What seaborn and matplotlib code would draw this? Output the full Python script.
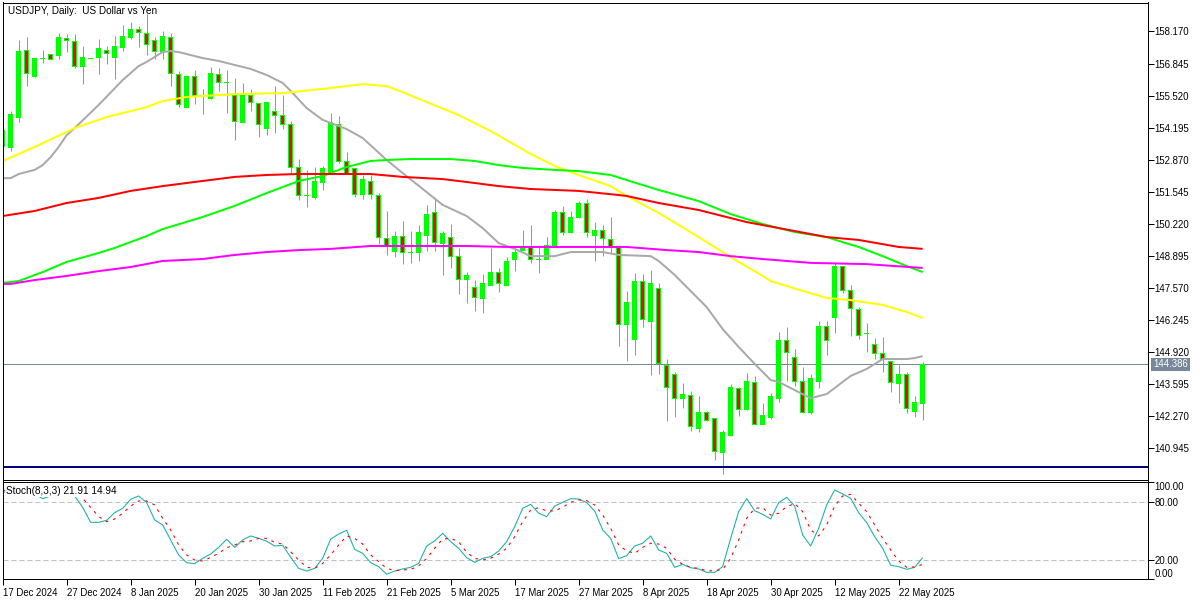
import matplotlib
matplotlib.use("Agg")
import matplotlib.pyplot as plt
import numpy as np
import pandas as pd
import seaborn as sns

BAR_GREEN = "#00FF00"
BAR_RED = "#FF0000"

# daily USDJPY bars
opens = [
    154.09, 153.35, 154.63, 157.40, 156.29, 157.07, 157.20, 157.16, 157.90, 157.74,
    156.74, 157.07, 157.11, 157.40, 157.11, 157.49, 157.94, 158.27, 158.07, 157.78,
    157.36, 157.94, 156.41, 155.04, 156.29, 155.50, 155.38, 156.41, 156.04, 155.50,
    154.42, 155.50, 155.17, 154.17, 154.84, 154.71, 154.34, 152.56, 151.40, 151.28,
    151.90, 152.35, 154.30, 152.77, 152.48, 151.44, 151.94, 151.40, 149.62, 149.08,
    149.70, 149.04, 149.00, 149.74, 150.66, 149.41, 149.66, 148.87, 147.92, 147.59,
    147.10, 147.67, 148.21, 147.67, 148.71, 149.12, 149.21, 148.75, 148.75, 149.33,
    150.66, 149.83, 150.45, 151.03, 149.74, 149.95, 149.54, 149.21, 146.02, 145.40,
    147.80, 146.18, 147.51, 144.36, 143.95, 142.96, 143.08, 141.75, 142.38, 142.13,
    140.76, 141.46, 143.41, 142.54, 143.62, 141.92, 142.21, 142.96, 145.36, 144.69,
    143.70, 142.38, 143.70, 145.94, 146.31, 148.46, 147.43, 146.68, 145.65, 145.23,
    144.82, 144.49, 143.58, 143.99, 142.42, 142.75,
]
highs = [
    154.09, 154.88, 157.82, 157.94, 157.07, 157.40, 157.20, 158.11, 158.07, 158.07,
    157.57, 157.07, 157.86, 157.57, 157.98, 158.44, 158.56, 158.40, 158.89, 157.94,
    158.19, 158.11, 156.53, 156.37, 156.58, 155.79, 156.70, 156.66, 156.58, 156.24,
    156.04, 155.79, 155.21, 155.25, 155.91, 155.54, 154.46, 152.89, 152.44, 152.56,
    152.60, 154.80, 154.67, 153.18, 152.52, 152.23, 152.23, 151.48, 150.74, 149.91,
    150.32, 149.91, 150.16, 150.99, 151.24, 149.91, 150.20, 149.21, 148.21, 147.88,
    148.13, 149.21, 148.38, 148.83, 149.25, 149.95, 150.16, 149.25, 149.66, 150.78,
    150.95, 150.74, 151.15, 151.24, 150.28, 150.16, 150.49, 149.33, 147.43, 148.17,
    148.13, 148.30, 147.76, 144.61, 144.07, 143.62, 143.29, 143.08, 142.46, 142.13,
    141.67, 143.58, 143.45, 144.03, 143.91, 142.79, 143.20, 145.73, 145.94, 145.03,
    144.28, 143.99, 146.18, 146.18, 148.63, 148.46, 147.67, 146.76, 146.10, 145.48,
    145.52, 144.49, 144.36, 144.07, 143.08, 144.49,
]
lows = [
    153.22, 153.22, 154.42, 155.91, 156.29, 156.87, 157.03, 157.03, 157.32, 156.66,
    155.99, 157.07, 156.41, 156.82, 156.20, 157.36, 157.86, 157.53, 157.20, 157.03,
    157.03, 155.91, 155.04, 155.00, 155.17, 154.75, 155.38, 155.71, 154.80, 153.68,
    154.42, 154.88, 153.80, 153.88, 153.97, 154.13, 152.31, 151.19, 150.90, 151.24,
    151.61, 152.31, 152.73, 152.27, 151.32, 151.24, 151.24, 149.37, 148.92, 148.83,
    148.54, 148.59, 148.67, 149.08, 149.08, 148.09, 148.38, 147.30, 146.93, 146.60,
    146.52, 147.67, 147.39, 147.67, 148.25, 149.12, 148.59, 148.17, 148.75, 149.33,
    149.74, 149.83, 150.45, 149.66, 148.67, 148.87, 149.00, 145.15, 144.53, 144.78,
    145.94, 143.95, 143.99, 142.05, 142.21, 142.58, 141.63, 141.59, 142.05, 140.43,
    139.85, 141.42, 142.25, 142.50, 141.92, 141.92, 142.13, 142.83, 143.70, 143.49,
    142.38, 142.33, 143.41, 144.78, 145.69, 147.34, 145.56, 145.44, 144.90, 144.61,
    144.07, 143.24, 142.79, 142.38, 142.21, 142.09,
]
closes = [
    153.39, 154.75, 157.36, 156.45, 157.07, 157.07, 157.03, 157.94, 157.78, 156.74,
    157.11, 157.07, 157.45, 157.24, 157.53, 157.98, 158.27, 158.11, 157.65, 157.36,
    157.98, 156.45, 155.13, 156.29, 155.54, 155.50, 156.45, 156.04, 156.04, 154.46,
    155.50, 155.21, 154.30, 155.21, 154.71, 154.34, 152.56, 151.40, 151.40, 151.98,
    152.48, 154.42, 152.77, 152.31, 151.44, 152.06, 151.44, 149.66, 149.29, 149.70,
    149.00, 149.04, 149.83, 150.61, 149.45, 149.79, 148.87, 147.92, 148.05, 147.14,
    147.72, 148.21, 147.72, 148.63, 149.04, 149.21, 148.75, 148.75, 149.33, 150.66,
    149.83, 150.49, 151.03, 149.83, 149.95, 149.58, 149.25, 146.02, 146.97, 147.80,
    146.23, 147.72, 144.41, 143.45, 142.96, 143.16, 141.80, 142.38, 142.05, 140.80,
    141.55, 143.45, 142.54, 143.66, 141.92, 142.29, 143.04, 145.36, 144.90, 143.66,
    142.38, 143.82, 145.94, 145.36, 148.46, 147.43, 146.72, 145.60, 145.65, 144.82,
    144.57, 143.62, 143.99, 142.58, 142.83, 144.386,
]

# moving averages, bar number and price
gray_bars = [0, 1, 2, 4, 5, 6, 7, 8, 9, 12, 15, 17, 18, 20, 21, 22, 25, 27, 31, 33, 35, 36, 38, 40, 43, 45, 48, 50,
             53, 55, 58, 60, 62, 64, 66, 69, 71, 75, 77, 81, 82, 84, 88, 90, 92, 94, 96, 97, 101, 103, 105, 106, 108,
             110, 113, 114, 115]
gray_ma = [152.10, 152.10, 152.27, 152.44, 152.64, 152.97, 153.39, 153.88, 154.17, 155.13, 156.16, 156.74, 156.91,
           157.32, 157.36, 157.32, 157.07, 156.95, 156.62, 156.37, 156.04, 155.71, 155.00, 154.51, 154.13, 153.76,
           152.85, 152.31, 151.52, 150.99, 150.53, 150.03, 149.41, 149.17, 148.87, 148.87, 149.04, 149.04, 148.92,
           148.87, 148.67, 148.09, 146.76, 145.85, 145.11, 144.41, 143.74, 143.66, 142.99, 143.16, 143.66, 143.91,
           144.20, 144.61, 144.61, 144.65, 144.73]
yellow_bars = [0, 4, 9, 13, 18, 20, 23, 29, 35, 41, 45, 48, 50, 53, 57, 61, 66, 69, 72, 76, 78, 82, 87, 91, 94, 96,
               100, 103, 106, 110, 113, 115]
yellow_ma = [152.81, 153.39, 154.17, 154.63, 155.04, 155.29, 155.46, 155.58, 155.62, 155.83, 155.99, 155.91, 155.66,
             155.25, 154.71, 154.05, 153.10, 152.60, 152.23, 151.77, 151.36, 150.66, 149.66, 148.83, 148.25, 147.84,
             147.43, 147.14, 147.05, 146.85, 146.56, 146.31]
green_bars = [0, 2, 5, 8, 12, 14, 18, 20, 25, 29, 33, 37, 40, 43, 46, 48, 51, 56, 59, 62, 65, 69, 72, 76, 78, 82, 87,
              91, 95, 99, 103, 105, 107, 110, 113, 115]
green_ma = [147.76, 147.84, 148.21, 148.63, 149.00, 149.21, 149.70, 149.99, 150.49, 150.95, 151.48, 151.98, 152.19,
            152.56, 152.81, 152.85, 152.89, 152.89, 152.81, 152.64, 152.52, 152.44, 152.39, 152.23, 152.02, 151.61,
            151.15, 150.61, 150.20, 149.87, 149.66, 149.45, 149.25, 148.87, 148.46, 148.21]
red_bars = [0, 4, 8, 12, 16, 20, 24, 29, 33, 37, 46, 50, 55, 58, 62, 66, 72, 77, 78, 82, 87, 93, 103, 107, 112, 115]
red_ma = [150.53, 150.74, 151.07, 151.28, 151.57, 151.77, 151.94, 152.15, 152.23, 152.27, 152.27, 152.15, 152.06,
          151.94, 151.77, 151.65, 151.57, 151.40, 151.36, 151.07, 150.78, 150.28, 149.66, 149.54, 149.25, 149.17]
magenta_bars = [0, 1, 4, 8, 12, 16, 20, 25, 29, 33, 37, 41, 46, 58, 63, 78, 83, 87, 91, 95, 101, 108, 115]
magenta_ma = [147.72, 147.72, 147.88, 148.05, 148.25, 148.42, 148.67, 148.75, 148.92, 149.04, 149.12, 149.17, 149.29,
              149.29, 149.25, 149.25, 149.12, 149.04, 148.87, 148.75, 148.59, 148.54, 148.38]

# stochastic main and signal lines, one value per bar
stoch_main = [
    89.3, 92.0, 93.8, 91.3, 87.9, 83.0, 85.8, 90.0, 92.7, 85.8,
    74.0, 58.5, 58.5, 60.6, 68.5, 73.0, 82.4, 85.8, 78.9, 60.9,
    55.8, 40.2, 24.7, 16.7, 15.7, 21.2, 25.7, 32.6, 40.9, 32.6,
    40.2, 44.4, 41.9, 39.0, 34.0, 34.7, 22.3, 10.8, 8.1, 10.8,
    21.2, 41.2, 46.4, 50.2, 30.5, 26.4, 16.7, 12.6, 4.6, 8.1,
    10.2, 11.9, 16.0, 34.0, 39.2, 47.1, 38.5, 31.6, 21.9, 17.0,
    21.2, 22.9, 28.8, 38.5, 54.0, 73.0, 77.2, 67.9, 64.4, 75.4,
    79.2, 83.0, 82.7, 78.9, 70.3, 50.6, 41.9, 20.9, 24.0, 34.0,
    36.8, 44.4, 29.9, 26.4, 11.9, 15.0, 11.5, 10.2, 6.7, 6.7,
    12.6, 41.9, 69.6, 83.0, 70.6, 66.8, 62.0, 78.9, 84.4, 75.4,
    45.4, 34.0, 52.3, 76.5, 92.0, 87.9, 83.4, 68.5, 58.2, 43.7,
    31.6, 14.0, 12.6, 9.8, 11.9, 21.91,
]
stoch_signal = [
    92.0, 90.0, 90.0, 90.0, 90.0, 86.0, 85.8, 85.8, 87.0, 88.6,
    83.4, 74.0, 64.4, 59.2, 62.0, 67.8, 75.4, 80.6, 80.6, 76.5,
    62.7, 50.6, 35.0, 24.7, 19.5, 18.5, 22.2, 26.4, 32.3, 35.0,
    38.5, 39.2, 41.9, 41.9, 37.8, 36.0, 28.1, 19.5, 11.9, 10.9,
    16.0, 24.7, 35.0, 44.4, 41.9, 36.0, 24.7, 17.8, 10.9, 8.4,
    9.1, 9.8, 13.3, 21.2, 31.6, 41.2, 41.9, 38.5, 27.4, 21.2,
    19.5, 21.2, 25.7, 31.6, 43.7, 59.2, 71.3, 73.7, 70.3, 70.3,
    74.1, 79.2, 81.7, 81.0, 76.5, 66.1, 52.3, 35.0, 28.8, 26.4,
    32.6, 36.8, 36.0, 31.6, 20.2, 15.0, 11.9, 10.8, 8.4, 8.4,
    9.8, 21.2, 40.2, 62.7, 73.0, 73.7, 66.1, 67.9, 74.8, 78.0,
    69.6, 50.6, 44.4, 55.8, 75.4, 85.8, 87.5, 78.2, 69.6, 55.8,
    41.9, 29.9, 18.5, 11.9, 12.3, 14.94,
]

price_ticks = [158.170, 156.845, 155.520, 154.195, 152.870, 151.545, 150.220, 148.895, 147.570, 146.245,
               144.920, 143.595, 142.270, 140.945]
stoch_ticks = [100, 80, 20, 0]
date_bars = [0, 8, 16, 24, 32, 40, 48, 56, 64, 72, 80, 88, 96, 104, 112]
date_labels = ["17 Dec 2024", "27 Dec 2024", "8 Jan 2025", "20 Jan 2025", "30 Jan 2025", "11 Feb 2025", "21 Feb 2025",
               "5 Mar 2025", "17 Mar 2025", "27 Mar 2025", "8 Apr 2025", "18 Apr 2025", "30 Apr 2025", "12 May 2025",
               "22 May 2025"]
last_price = 144.386
support_level = 140.12

sns.set_theme(style="white")
plt.rcParams["font.family"] = "Liberation Sans"
FONT_SIZE = 6.9

PX = 72 / 100
W, H = 1200, 600
PRICE_PER_PX = 0.0414

fig = plt.figure(figsize=(12, 6), dpi=100, facecolor="white")
ax = fig.add_axes([2.5 / W, 1 - 479.5 / H, 1145 / W, 477 / H])
ax_stoch = fig.add_axes([2.5 / W, 1 - 579 / H, 1145 / W, 97.5 / H], sharex=ax)


def draw_line(axis, xs, ys, colour, width_px, **kwargs):
    sns.lineplot(x=xs, y=ys, color=colour, ax=axis, errorbar=None, **kwargs)
    line = axis.lines[-1]
    line.set_linewidth(width_px * PX)
    line.set_solid_capstyle("butt")
    return line


bars = pd.DataFrame({"open": opens, "high": highs, "low": lows, "close": closes})
bars["bar"] = np.arange(len(bars))
bars["top"] = bars[["open", "close"]].max(axis=1)
bars["bottom"] = bars[["open", "close"]].min(axis=1)
bear = bars[bars["close"] < bars["open"]]

# aliased lines come out too fat in Agg, so only the solid blocks stay aliased
ax.vlines(bars["bar"], bars["low"], bars["high"], color=BAR_GREEN, linewidth=PX, snap=True, zorder=2)
# outer green block on every bar, a narrower red core on the down bars
ax.bar(bars["bar"], bars["top"] - bars["bottom"] + PRICE_PER_PX, bottom=bars["bottom"] - PRICE_PER_PX / 2,
       width=5 / 8, color=BAR_GREEN, linewidth=0, antialiased=False, zorder=3)
ax.bar(bear["bar"], (bear["top"] - bear["bottom"] - PRICE_PER_PX).clip(lower=PRICE_PER_PX),
       bottom=bear["bottom"] + PRICE_PER_PX / 2, width=3 / 8, color=BAR_RED, linewidth=0, antialiased=False,
       zorder=3.5)

ax.axhline(last_price, color="#778899", linewidth=PX, zorder=2.5)
ax.axhline(support_level, color="#000080", linewidth=2 * PX, zorder=4)

for xs, ys, colour in [
    (gray_bars, gray_ma, "#A9A9A9"),
    (yellow_bars, yellow_ma, "#FFFF00"),
    (green_bars, green_ma, "#00FF00"),
    (red_bars, red_ma, "#FF0000"),
    (magenta_bars, magenta_ma, "#FF00FF"),
]:
    draw_line(ax, xs, ys, colour, 2, zorder=5)

ax.set_xlim((2.5 - 2.67) / 8, (1147.5 - 2.67) / 8)
ax.set_ylim(159.474 - PRICE_PER_PX * 479.5, 159.474 - PRICE_PER_PX * 2.5)
ax.yaxis.tick_right()
ax.set_yticks(price_ticks)
ax.set_yticklabels([f"{t:.3f}" for t in price_ticks])
ax.tick_params(axis="y", length=4, width=PX, color="black", pad=1.0, labelsize=FONT_SIZE, labelcolor="black", right=True)
ax.tick_params(axis="x", bottom=False, labelbottom=False)
ax.text(5.0 / 1145, 1 - 3.5 / 477, "USDJPY, Daily:  US Dollar vs Yen", transform=ax.transAxes, fontsize=7.2, va="top",
        color="black", zorder=6)
# last price flag sits over the axis labels
ax.annotate(f"{last_price:.3f}", xy=(1, last_price), xycoords=("axes fraction", "data"), xytext=(5.5 * PX, 0),
            textcoords="offset points", va="center", ha="left", fontsize=FONT_SIZE, color="white",
            annotation_clip=False, bbox=dict(boxstyle="square,pad=0.2", facecolor="#778899", edgecolor="none"),
            zorder=7)

for level in [80, 20]:
    ax_stoch.axhline(level, color="#C0C0C0", linewidth=PX, dashes=(5, 3), zorder=1)
draw_line(ax_stoch, bars["bar"], stoch_main, "#20B2AA", 1.1, zorder=3)
signal_line = draw_line(ax_stoch, bars["bar"], stoch_signal, "#FF0000", 1.1, zorder=3)
signal_line.set_linestyle((0, (2.5, 4.5)))

ax_stoch.set_ylim(-0.2, 100.8)
ax_stoch.yaxis.tick_right()
ax_stoch.set_yticks(stoch_ticks)
ax_stoch.set_yticklabels([f"{t:.2f}" for t in stoch_ticks])
ax_stoch.tick_params(axis="y", length=4, width=PX, color="black", pad=1.0, labelsize=FONT_SIZE, labelcolor="black",
                     right=True)
for tick_label, t in zip(ax_stoch.get_yticklabels(), stoch_ticks):
    if t == 100:
        tick_label.set_va("top")
    elif t == 0:
        tick_label.set_va("bottom")
ax_stoch.set_xticks(date_bars)
ax_stoch.set_xticklabels(date_labels, ha="left")
ax_stoch.tick_params(axis="x", length=4, width=PX, color="black", pad=2.5, labelsize=FONT_SIZE, labelcolor="black",
                     bottom=True)
ax_stoch.set_xlabel("")
ax_stoch.set_ylabel("")
ax.set_xlabel("")
ax.set_ylabel("")
ax_stoch.text(3.5 / 1145, 1 - 4.5 / 97.5, "Stoch(8,3,3) 21.91 14.94", transform=ax_stoch.transAxes, fontsize=7.2,
              va="top", color="black", zorder=6, bbox=dict(facecolor="white", edgecolor="none", pad=0.8))

for axis in [ax, ax_stoch]:
    for spine in axis.spines.values():
        spine.set_visible(True)
        spine.set_color("black")
        spine.set_linewidth(PX)
        spine.set_zorder(8)

fig.savefig("out.png", dpi=100)
